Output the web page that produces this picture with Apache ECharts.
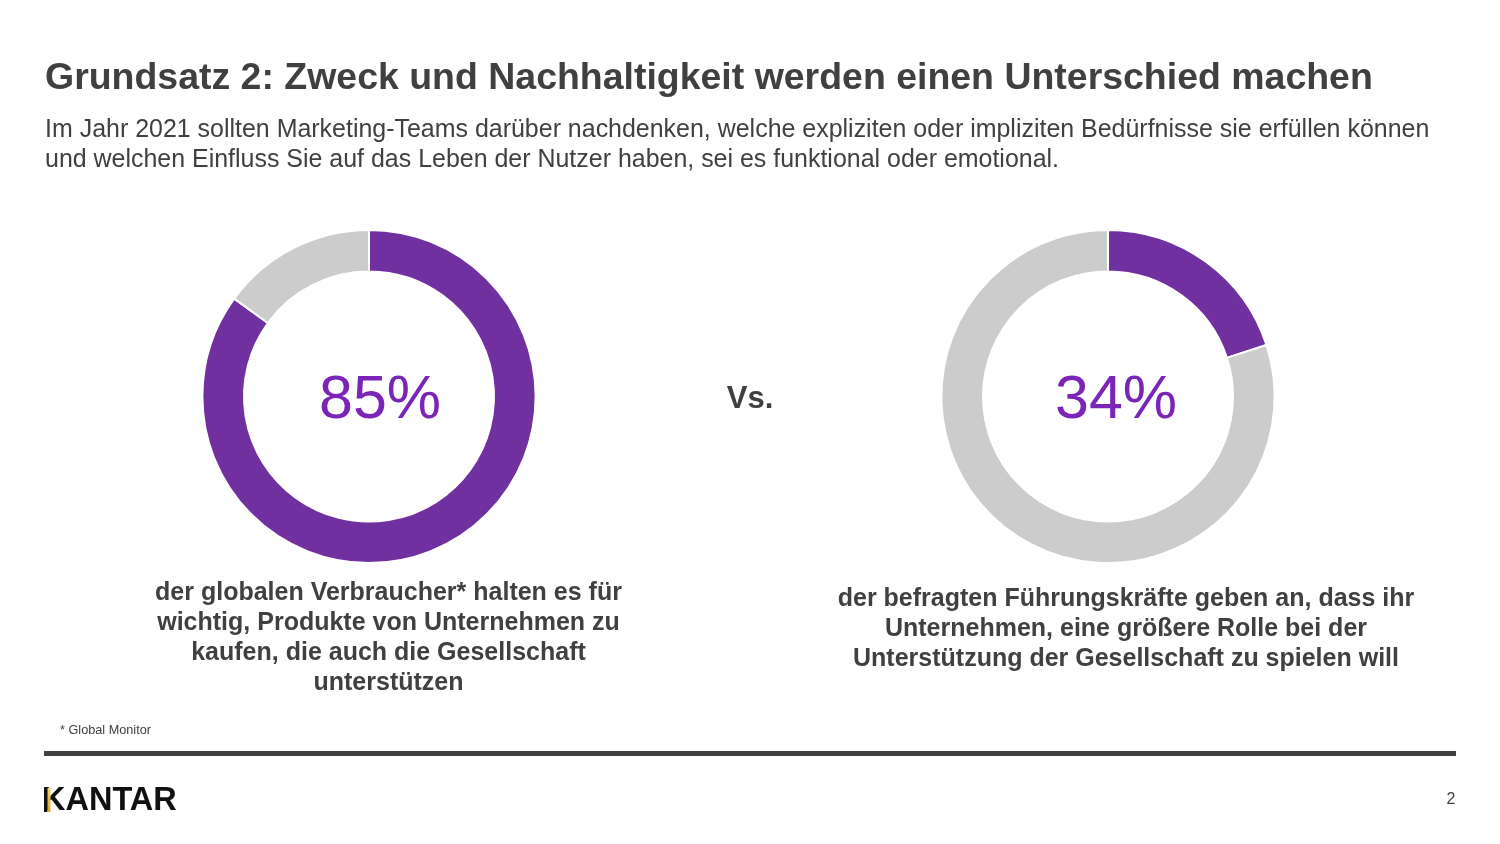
<!DOCTYPE html>
<html><head><meta charset="utf-8">
<style>html,body{margin:0;padding:0;background:#fff}#c{width:1500px;height:844px}</style>
<script src="https://cdn.jsdelivr.net/npm/echarts@6/dist/echarts.min.js"></script>
</head><body><div id="c"></div>
<script>
const sliceNames = ['Ja', 'Andere'];
const leftValues = [85, 15];
const rightValues = [20, 80];
const leftLabel = '85%';
const rightLabel = '34%';
const titleText = 'Grundsatz 2: Zweck und Nachhaltigkeit werden einen Unterschied machen';
const subtitleLines = ['Im Jahr 2021 sollten Marketing-Teams darüber nachdenken, welche expliziten oder impliziten Bedürfnisse sie erfüllen können',
  'und welchen Einfluss Sie auf das Leben der Nutzer haben, sei es funktional oder emotional.'];
const leftCaption = ['der globalen Verbraucher* halten es für','wichtig, Produkte von Unternehmen zu','kaufen, die auch die Gesellschaft','unterstützen'];
const rightCaption = ['der befragten Führungskräfte geben an, dass ihr','Unternehmen, eine größere Rolle bei der','Unterstützung der Gesellschaft zu spielen will'];
const FONT = '"Liberation Sans", Arial, sans-serif';
const DARK = '#404040';
const PURPLE = '#7030A0', GREY = '#CCCCCC', ACCENT = '#7B24B8';

function txt(x, y, text, size, opt) {
  opt = opt || {};
  return {type:'text', x:x, y:y, silent:true, style:{text:text, fontFamily:FONT, fontSize:size,
    fontWeight:opt.weight||'normal', fill:opt.fill||DARK, align:opt.align||'left', verticalAlign:'middle'}};
}
function donut(cx, values) {
  return {type:'pie', center:[cx,396.5], radius:[125,166.6], startAngle:90, clockwise:true, silent:true,
    label:{show:false}, labelLine:{show:false}, animation:false,
    itemStyle:{borderColor:'#fff', borderWidth:2},
    data:values.map((v,i)=>({name:sliceNames[i], value:v, itemStyle:{color:i===0?PURPLE:GREY}}))};
}
const gfx = [];
gfx.push(txt(45, 79, titleText, 37.46, {weight:'bold'}));
subtitleLines.forEach((l,i)=>gfx.push(txt(45, 130+i*30, l, 24.96)));
gfx.push(txt(380, 401, leftLabel, 61, {fill:ACCENT, align:'center'}));
gfx.push(txt(1116, 401, rightLabel, 61, {fill:ACCENT, align:'center'}));
gfx.push(txt(750, 399.5, 'Vs.', 31, {weight:'bold', align:'center'}));
leftCaption.forEach((l,i)=>gfx.push(txt(388.5, 593+i*30, l, 25, {weight:'bold', align:'center'})));
rightCaption.forEach((l,i)=>gfx.push(txt(1126, 599+i*30, l, 25, {weight:'bold', align:'center'})));
gfx.push(txt(60, 730.5, '* Global Monitor', 12.7));
gfx.push({type:'rect', silent:true, shape:{x:44,y:751,width:1412,height:5}, style:{fill:'#404040'}});
gfx.push(txt(1451, 800, '2', 16, {align:'center'}));
gfx.push(txt(42, 801, 'KANTAR', 32.5, {fill:'#111111', weight:'bold'}));
gfx.push({type:'rect', silent:true, shape:{x:44,y:788,width:3.5,height:24}, style:{fill:'#111111'}});
gfx.push({type:'rect', silent:true, shape:{x:47.5,y:788,width:3,height:24},
  style:{fill:{type:'linear',x:0,y:0,x2:0,y2:1,colorStops:[{offset:0,color:'#F5D76E'},{offset:1,color:'#D9A520'}]}}});

const chart = echarts.init(document.getElementById('c'), null, {renderer:'canvas'});
chart.setOption({backgroundColor:'#fff', animation:false,
  series:[donut(369,leftValues), donut(1108,rightValues)], graphic:{elements:gfx}});
</script></body></html>
